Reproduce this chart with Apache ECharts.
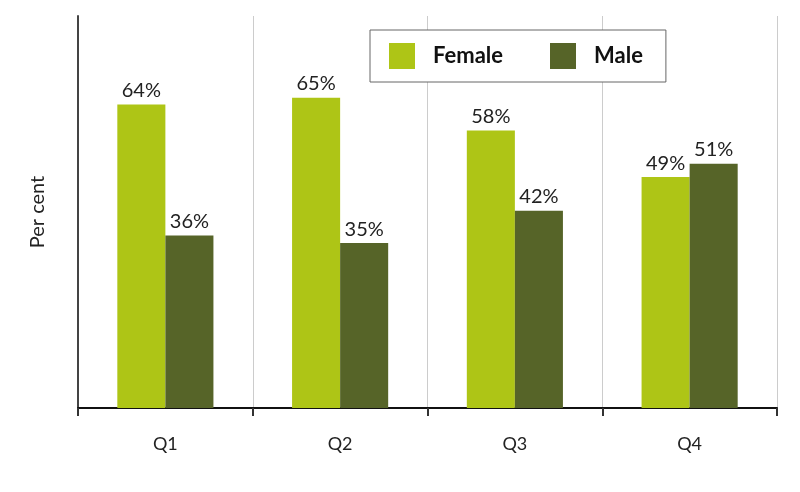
<!DOCTYPE html>
<html>
<head>
<meta charset="utf-8">
<script src="https://cdn.jsdelivr.net/npm/echarts@6/dist/echarts.min.js"></script>
<style>
  html, body { margin: 0; padding: 0; background: #fff; }
  #chart { width: 800px; height: 492px; }
</style>
</head>
<body>
<div id="chart"></div>
<script>
const categories = ['Q1', 'Q2', 'Q3', 'Q4'];
// bar heights; labels show the rounded value
const female = [63.9, 65.3, 58.4, 48.6];
const male = [36.3, 34.7, 41.5, 51.4];

const chart = echarts.init(document.getElementById('chart'));

const labelStyle = {
  show: true,
  position: 'top',
  distance: 4,
  formatter: p => Math.round(p.value) + '%',
  color: '#222',
  fontSize: 20,
  fontFamily: 'Lato'
};

chart.setOption({
  animation: false,
  textStyle: { fontFamily: 'Lato' },
  grid: { left: 78, right: 23, top: 16, bottom: 84 },
  legend: {
    left: 370,
    top: 30,
    padding: [13, 23, 13, 19],
    itemWidth: 26,
    itemHeight: 26,
    itemGap: 47,
    borderColor: '#666',
    borderWidth: 1,
    backgroundColor: '#fff',
    icon: 'rect',
    textStyle: {
      fontSize: 22,
      fontWeight: 'bold',
      color: '#111',
      padding: [0, 0, 0, 13]
    },
    data: ['Female', 'Male']
  },
  xAxis: {
    type: 'category',
    data: categories,
    axisLine: { lineStyle: { color: '#111', width: 2 } },
    axisTick: { show: true, length: 8, lineStyle: { color: '#333', width: 2 } },
    axisLabel: { color: '#222', fontSize: 18, margin: 27 },
    splitLine: { show: true, lineStyle: { color: '#ccc', width: 1 } }
  },
  yAxis: {
    type: 'value',
    min: 0,
    max: 82.5,
    name: 'Per cent',
    nameLocation: 'middle',
    nameGap: 30,
    nameTextStyle: { fontSize: 20, color: '#222' },
    axisLine: { show: true, lineStyle: { color: '#444', width: 2 } },
    axisTick: { show: false },
    axisLabel: { show: false },
    splitLine: { show: false }
  },
  series: [
    {
      name: 'Female',
      type: 'bar',
      data: female,
      barGap: '0%',
      barCategoryGap: '45%',
      itemStyle: { color: '#aec516' },
      label: labelStyle
    },
    {
      name: 'Male',
      type: 'bar',
      data: male,
      itemStyle: { color: '#566428' },
      label: labelStyle
    }
  ]
});
</script>
</body>
</html>
